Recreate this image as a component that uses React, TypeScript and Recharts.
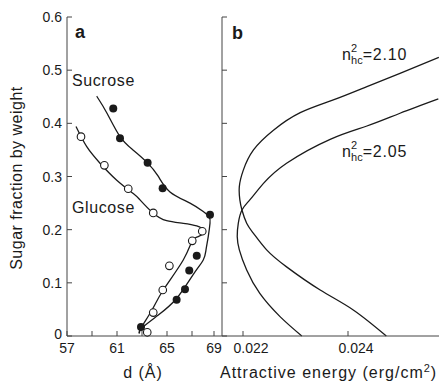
import React from 'react'
import { ComposedChart, Line, Scatter, XAxis, YAxis } from 'recharts'

// panel a: measured d spacing (Å) vs sugar fraction
const sucroseDots = [
  { x: 60.7, y: 0.428 }, { x: 61.24, y: 0.372 }, { x: 63.45, y: 0.326 }, { x: 64.65, y: 0.278 },
  { x: 68.44, y: 0.228 }, { x: 67.38, y: 0.151 }, { x: 66.78, y: 0.123 }, { x: 66.44, y: 0.088 },
  { x: 65.77, y: 0.068 }, { x: 62.92, y: 0.017 },
]
const glucoseDots = [
  { x: 58.12, y: 0.375 }, { x: 59.99, y: 0.321 }, { x: 61.9, y: 0.277 }, { x: 63.9, y: 0.2315 },
  { x: 67.82, y: 0.197 }, { x: 67.02, y: 0.179 }, { x: 65.19, y: 0.132 }, { x: 64.66, y: 0.0865 },
  { x: 63.9, y: 0.044 }, { x: 63.42, y: 0.007 },
]
const sucroseCurve = [
  { x: 59.38, y: 0.451 }, { x: 60.2, y: 0.419 }, { x: 61.24, y: 0.375 }, { x: 62.28, y: 0.35 },
  { x: 63.38, y: 0.327 }, { x: 64.28, y: 0.301 }, { x: 65.24, y: 0.271 }, { x: 66.84, y: 0.25 },
  { x: 67.9, y: 0.234 }, { x: 68.38, y: 0.224 }, { x: 68.44, y: 0.212 }, { x: 68.3, y: 0.187 },
  { x: 68.12, y: 0.162 }, { x: 67.9, y: 0.143 }, { x: 67.08, y: 0.115 }, { x: 65.78, y: 0.071 },
  { x: 64.28, y: 0.039 }, { x: 62.98, y: 0.015 }, { x: 62.78, y: 0.005 },
]
const glucoseCurve = [
  { x: 57.72, y: 0.394 }, { x: 58.58, y: 0.356 }, { x: 59.64, y: 0.325 }, { x: 60.98, y: 0.293 },
  { x: 62.3, y: 0.268 }, { x: 62.84, y: 0.256 }, { x: 63.9, y: 0.231 }, { x: 64.97, y: 0.217 },
  { x: 66.3, y: 0.212 }, { x: 67.38, y: 0.207 }, { x: 67.9, y: 0.201 }, { x: 68.05, y: 0.196 },
  { x: 67.5, y: 0.187 }, { x: 67.02, y: 0.179 }, { x: 66.3, y: 0.143 }, { x: 64.7, y: 0.0865 },
  { x: 63.8, y: 0.049 }, { x: 62.98, y: 0.0175 }, { x: 62.78, y: 0.005 },
]

// panel b: attractive energy (erg/cm2) vs sugar fraction
const curve210 = [
  { x: 0.02573, y: 0.524 }, { x: 0.02499, y: 0.494 }, { x: 0.02436, y: 0.469 }, { x: 0.02372, y: 0.444 },
  { x: 0.02309, y: 0.42 }, { x: 0.02258, y: 0.387 }, { x: 0.0222, y: 0.35 }, { x: 0.022006, y: 0.312 },
  { x: 0.02193, y: 0.281 }, { x: 0.02194, y: 0.256 }, { x: 0.02198, y: 0.237 }, { x: 0.02207, y: 0.212 },
  { x: 0.0222, y: 0.193 }, { x: 0.02245, y: 0.162 }, { x: 0.02283, y: 0.13 }, { x: 0.02347, y: 0.0865 },
  { x: 0.0241, y: 0.049 }, { x: 0.02473, y: 0 },
]
const curve205 = [
  { x: 0.02572, y: 0.446 }, { x: 0.02499, y: 0.419 }, { x: 0.02436, y: 0.395 }, { x: 0.02366, y: 0.37 },
  { x: 0.02283, y: 0.325 }, { x: 0.02239, y: 0.287 }, { x: 0.02213, y: 0.256 },
  { x: 0.02198, y: 0.237 }, { x: 0.02191, y: 0.212 }, { x: 0.02189, y: 0.187 }, { x: 0.02193, y: 0.162 },
  { x: 0.02207, y: 0.124 }, { x: 0.02232, y: 0.08 }, { x: 0.02271, y: 0.036 }, { x: 0.02312, y: 0 },
]

const yTicks = [0, 0.1, 0.2, 0.3, 0.4, 0.5, 0.6]
const dTicks = [57, 59, 61, 63, 65, 67, 69]
const dLabels = [57, 61, 65, 69]
const energyTicks = [0.022, 0.024]

const FONT = '"Liberation Sans", Arial, sans-serif'
const INK = '#1a1a1a'
const AXIS = '#444'

const YTick = ({ x, y, payload, showLabel }: any) => (
  <g>
    <line x1={x} y1={y} x2={x + 5} y2={y} stroke={AXIS} />
    {showLabel && (
      <text x={x - 5} y={y} dy={payload.value === 0 ? 3 : 5} textAnchor="end" fontSize={14} fontFamily={FONT} fill={INK}>
        {payload.value === 0 ? '0' : payload.value.toFixed(1)}
      </text>
    )}
  </g>
)

const DTick = ({ x, y, payload }: any) => (
  <g>
    <line x1={x} y1={y} x2={x} y2={y - 5} stroke={AXIS} />
    {dLabels.includes(payload.value) && (
      <text x={x} y={y + 17} textAnchor="middle" fontSize={14} fontFamily={FONT} fill={INK}>
        {payload.value}
      </text>
    )}
  </g>
)

const ETick = ({ x, y, payload }: any) => (
  <g>
    <line x1={x} y1={y} x2={x} y2={y - 5} stroke={AXIS} />
    <text x={x + 8} y={y + 17} textAnchor="middle" fontSize={14} fontFamily={FONT} fill={INK}>
      {payload.value.toFixed(3)}
    </text>
  </g>
)

const FilledDot = ({ cx, cy }: any) => <circle cx={cx} cy={cy} r={4} fill={INK} />
const OpenDot = ({ cx, cy }: any) => <circle cx={cx} cy={cy} r={3.8} fill="#fff" stroke={INK} strokeWidth={1.1} />

export default function App() {
  return (
    <div style={{ position: 'absolute', left: 0, top: 0, width: 439, height: 387, background: '#fff', fontFamily: FONT }}>
      <div style={{ position: 'absolute', left: 0, top: 0 }}>
        <ComposedChart width={222} height={387} margin={{ top: 17, right: 0, bottom: 0, left: 0 }}>
          <XAxis
            type="number" dataKey="x" domain={[57, 69.4]} ticks={dTicks} allowDataOverflow
            height={51} tickSize={0} tickMargin={0} tickLine={false} stroke={AXIS} tick={<DTick />}
          />
          <YAxis
            type="number" dataKey="y" domain={[0, 0.6]} ticks={yTicks} width={67}
            tickSize={0} tickMargin={0} tickLine={false} stroke={AXIS} tick={<YTick showLabel />}
          />
          <Line data={sucroseCurve} dataKey="y" type="natural" stroke={INK} strokeWidth={1.3} dot={false} isAnimationActive={false} />
          <Line data={glucoseCurve} dataKey="y" type="natural" stroke={INK} strokeWidth={1.3} dot={false} isAnimationActive={false} />
          <Scatter data={sucroseDots} dataKey="y" shape={<FilledDot />} isAnimationActive={false} />
          <Scatter data={glucoseDots} dataKey="y" shape={<OpenDot />} isAnimationActive={false} />
        </ComposedChart>
      </div>
      <div style={{ position: 'absolute', left: 212, top: 0 }}>
        <ComposedChart width={227} height={387} margin={{ top: 17, right: 0, bottom: 0, left: 0 }}>
          <XAxis
            type="number" dataKey="x" domain={[0.0216, 0.025733]} ticks={energyTicks} allowDataOverflow
            height={51} tickSize={0} tickMargin={0} tickLine={false} stroke={AXIS} tick={<ETick />}
          />
          <YAxis
            type="number" dataKey="y" domain={[0, 0.6]} ticks={yTicks} width={10}
            tickSize={0} tickMargin={0} tickLine={false} stroke={AXIS} tick={<YTick />}
          />
          <Line data={curve210} dataKey="y" type="natural" stroke={INK} strokeWidth={1.3} dot={false} isAnimationActive={false} />
          <Line data={curve205} dataKey="y" type="natural" stroke={INK} strokeWidth={1.3} dot={false} isAnimationActive={false} />
        </ComposedChart>
      </div>
      <svg width={439} height={387} style={{ position: 'absolute', left: 0, top: 0, pointerEvents: 'none' }} fontFamily={FONT} fill={INK}>
        <text x={75} y={38} fontSize={18} fontWeight="bold">a</text>
        <text x={232} y={39} fontSize={18} fontWeight="bold">b</text>
        <text x={72} y={86} fontSize={16} letterSpacing={0.6}>Sucrose</text>
        <text x={72} y={213} fontSize={16} letterSpacing={0.6}>Glucose</text>
        <text x={342} y={60} fontSize={16}>
          n<tspan fontSize={11} dy={-8}>2</tspan>
          <tspan fontSize={11} dx={-6} dy={12}>hc</tspan>
          <tspan dy={-4} letterSpacing={0.8}>=2.10</tspan>
        </text>
        <text x={342} y={157} fontSize={16}>
          n<tspan fontSize={11} dy={-8}>2</tspan>
          <tspan fontSize={11} dx={-6} dy={12}>hc</tspan>
          <tspan dy={-4} letterSpacing={0.8}>=2.05</tspan>
        </text>
        <text transform="rotate(-90)" x={-178} y={22} fontSize={16} textAnchor="middle" letterSpacing={0.5}>
          Sugar fraction by weight
        </text>
        <text x={143} y={378} fontSize={16} textAnchor="middle" letterSpacing={1}>d (Å)</text>
        <text x={220} y={378} fontSize={16} letterSpacing={1}>
          Attractive energy (erg/cm<tspan fontSize={11} dy={-6}>2</tspan><tspan dy={6}>)</tspan>
        </text>
      </svg>
    </div>
  )
}
